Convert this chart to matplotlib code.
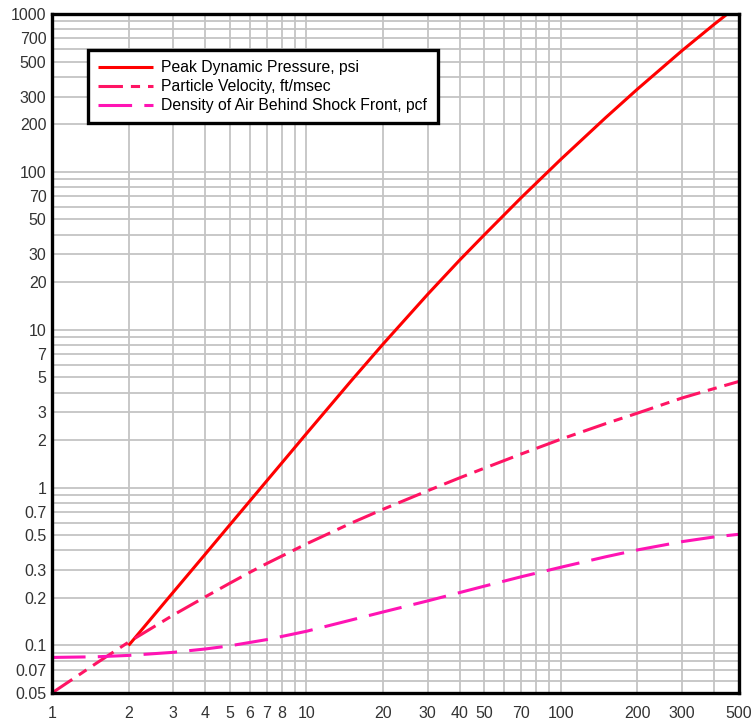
import matplotlib
matplotlib.use("Agg")
import matplotlib.pyplot as plt
from matplotlib.ticker import FixedLocator, NullFormatter

plt.rcParams["font.family"] = ["Liberation Sans", "DejaVu Sans"]

# values (log-log)
pressure_x = [2, 3, 4, 5, 6, 7, 8, 10, 15, 20, 30, 40, 50, 70, 100, 150, 200, 300, 400, 500]
pressure_y = [0.1, 0.218, 0.378, 0.581, 0.824, 1.108, 1.431, 2.197, 4.75, 8.11, 16.8, 27.6,
              39.9, 68.9, 120.1, 220.6, 334.6, 587.9, 859.5, 1141]

velocity_x = [1, 1.5, 2, 3, 4, 5, 6, 7, 10, 15, 20, 30, 40, 50, 70, 100, 150, 200, 300, 400, 500]
velocity_y = [0.05, 0.0775, 0.105, 0.156, 0.203, 0.248, 0.291, 0.331, 0.44, 0.596, 0.729,
              0.956, 1.153, 1.327, 1.635, 2.026, 2.543, 2.963, 3.70, 4.24, 4.70]

density_x = [1, 1.5, 2, 3, 4, 5, 7, 10, 15, 20, 30, 40, 50, 70, 100, 150, 200, 300, 400, 500]
density_y = [0.084, 0.0848, 0.0865, 0.0905, 0.095, 0.0995, 0.109, 0.123, 0.145, 0.163,
             0.1917, 0.2163, 0.2375, 0.2727, 0.313, 0.3646, 0.403, 0.455, 0.487, 0.506]

labels = [
    "Peak Dynamic Pressure, psi",
    "Particle Velocity, ft/msec",
    "Density of Air Behind Shock Front, pcf",
]

x_major = [1, 2, 3, 4, 5, 6, 7, 8, 10, 20, 30, 40, 50, 70, 100, 200, 300, 500]
x_major_labels = ["1", "2", "3", "4", "5", "6", "7", "8", "10", "20", "30", "40", "50",
                  "70", "100", "200", "300", "500"]
x_minor = [9, 60, 80, 90, 400]

y_major = [0.05, 0.07, 0.1, 0.2, 0.3, 0.5, 0.7, 1, 2, 3, 5, 7, 10, 20, 30, 50, 70,
           100, 200, 300, 500, 700, 1000]
y_major_labels = ["0.05", "0.07", "0.1", "0.2", "0.3", "0.5", "0.7", "1", "2", "3", "5",
                  "7", "10", "20", "30", "50", "70", "100", "200", "300", "500", "700", "1000"]
y_minor = [0.06, 0.08, 0.09, 0.4, 0.6, 0.8, 0.9, 4, 6, 8, 9, 40, 60, 80, 90, 400, 600, 800, 900]

fig = plt.figure(figsize=(7.53, 7.2), dpi=100)
ax = fig.add_axes([0.069, 0.0375, 0.912, 0.943])

lw = 2.2
ax.plot(pressure_x, pressure_y, color="#ff0000", lw=lw, label=labels[0],
        solid_capstyle="butt", solid_joinstyle="round")
ax.plot(velocity_x, velocity_y, color="#ff1464", lw=lw, label=labels[1],
        linestyle=(0, (8, 2.6, 3, 2.6)))
ax.plot(density_x, density_y, color="#ff14b4", lw=lw, label=labels[2],
        linestyle=(0, (11, 4)))

ax.set_xscale("log")
ax.set_yscale("log")
ax.set_xlim(1, 500)
ax.set_ylim(0.05, 1000)

ax.xaxis.set_major_locator(FixedLocator(x_major))
ax.set_xticklabels(x_major_labels)
ax.xaxis.set_minor_locator(FixedLocator(x_minor))
ax.xaxis.set_minor_formatter(NullFormatter())
ax.yaxis.set_major_locator(FixedLocator(y_major))
ax.set_yticklabels(y_major_labels)
ax.yaxis.set_minor_locator(FixedLocator(y_minor))
ax.yaxis.set_minor_formatter(NullFormatter())

ax.grid(True, which="both", color="#c4c4c4", lw=1.3)
ax.set_axisbelow(True)
ax.tick_params(which="both", length=0, labelsize=11.5, labelcolor="#333333")
ax.tick_params(axis="x", pad=9)
ax.tick_params(axis="y", pad=4)

for s in ax.spines.values():
    s.set_linewidth(2.4)
    s.set_color("black")

leg = ax.legend(loc="upper left", bbox_to_anchor=(0.052, 0.947), borderaxespad=0,
                fancybox=False, framealpha=1, fontsize=11.3, handlelength=3.5,
                labelspacing=0.25, borderpad=0.65, handletextpad=0.55)
leg.get_frame().set_edgecolor("black")
leg.get_frame().set_linewidth(2.4)

fig.savefig("out.png", dpi=100)
